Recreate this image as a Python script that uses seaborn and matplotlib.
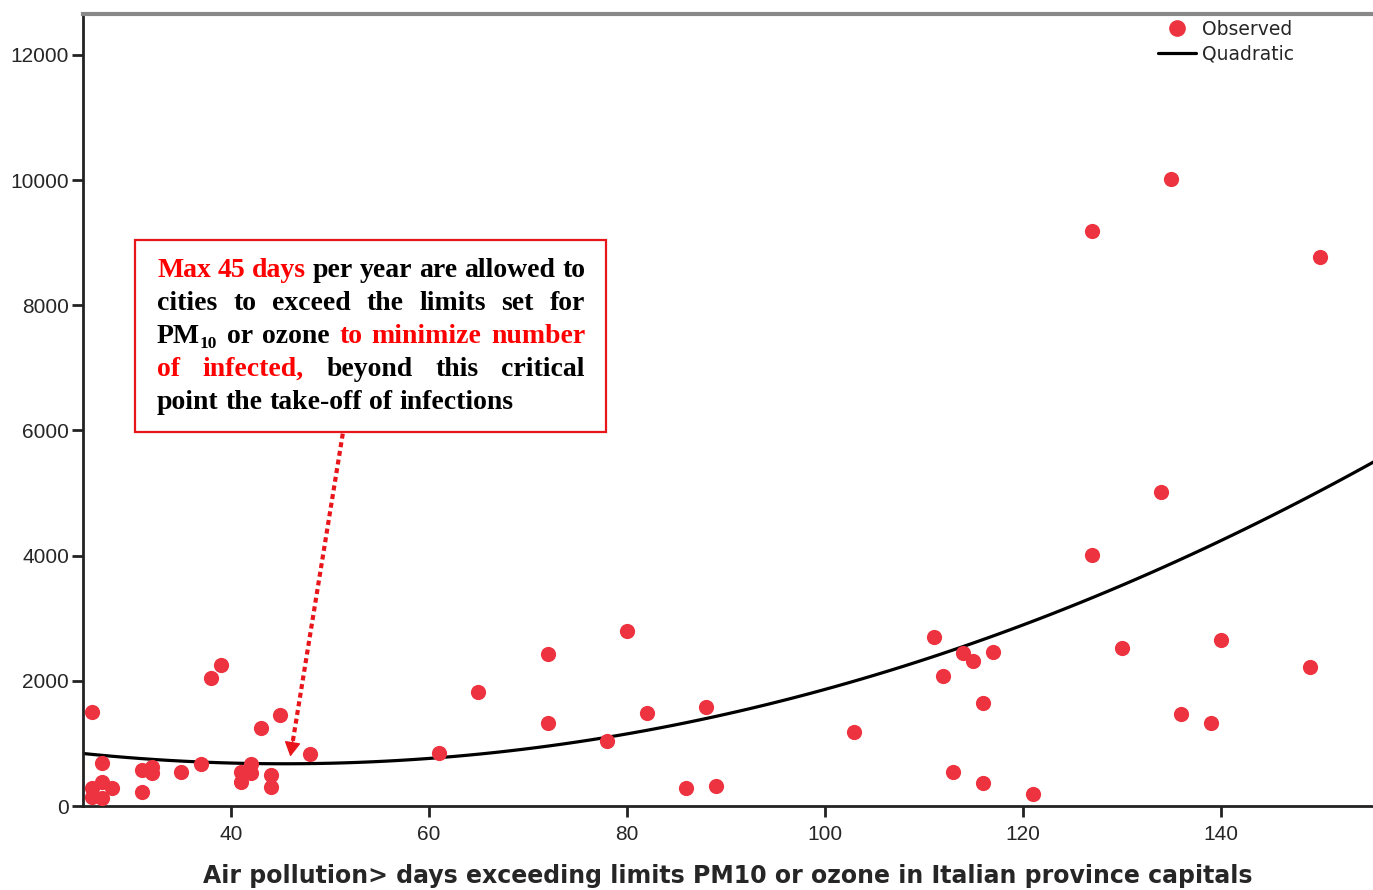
import numpy as np
import matplotlib
matplotlib.use("Agg")
import matplotlib.pyplot as plt
import seaborn as sns
from matplotlib.lines import Line2D
from matplotlib.patches import Rectangle

# Observed points: days over limit vs. infected
days = [26, 27, 26, 27, 28, 26, 27, 31, 32, 32, 31, 35, 37, 38, 39,
        41, 42, 42, 41, 44, 44, 43, 45, 48, 61, 65, 72, 72, 80, 78,
        82, 88, 86, 89, 103, 111, 112, 114, 115, 117, 116, 113, 116, 121,
        130, 140, 149, 136, 139, 127, 135, 150, 134, 127]
infected = [1500, 690, 280, 390, 280, 150, 120, 575, 630, 530, 220, 550, 670, 2040, 2250,
            550, 670, 530, 390, 495, 310, 1240, 1450, 825, 840, 1815, 2425, 1320, 2795, 1040,
            1480, 1585, 280, 325, 1190, 2705, 2080, 2440, 2315, 2455, 1640, 540, 370, 190,
            2520, 2660, 2225, 1465, 1320, 9190, 10025, 8780, 5020, 4005]

x_ticks = [40, 60, 80, 100, 120, 140]
y_ticks = [0, 2000, 4000, 6000, 8000, 10000, 12000]

note_lines = [
    [("Max 45 days", "red"), ("per year are allowed to", "black")],
    [("cities to exceed the limits set for", "black")],
    [("PM_10 or ozone", "black"), ("to minimize number", "red")],
    [("of infected,", "red"), ("beyond this critical", "black")],
    [("point the take-off of infections", "black")],
]

RED = "#ee3340"
NOTE_RED = "#e8161b"

sns.set_style("ticks")
plt.rcParams["font.family"] = ["Liberation Sans", "DejaVu Sans"]

W, H = 1373, 890
fig = plt.figure(figsize=(W / 100, H / 100), dpi=100)
ax = fig.add_axes([83 / W, 1 - 806 / H, (W - 83) / W, (806 - 14) / H])

sns.scatterplot(x=days, y=infected, color=RED, s=120, linewidth=0, ax=ax, zorder=3)
sns.regplot(x=np.array(days), y=np.array(infected), order=2, ci=None, scatter=False,
            truncate=False, line_kws=dict(color="black", lw=2.3), ax=ax)

ax.set_xlim(25.05, 155.4)
ax.set_ylim(0, 12655)
ax.set_xticks(x_ticks)
ax.set_yticks(y_ticks)
ax.tick_params(axis="both", labelsize=15, width=2, length=8, color="#222222")
ax.tick_params(axis="y", pad=2)
ax.tick_params(axis="x", pad=6)
ax.set_ylabel("")
ax.set_xlabel("Air pollution> days exceeding limits PM10 or ozone in Italian province capitals",
              fontsize=17, fontweight="bold", family="DejaVu Sans", labelpad=14)
for side in ["left", "bottom"]:
    ax.spines[side].set_linewidth(2)
    ax.spines[side].set_color("#222222")
ax.spines["top"].set_linewidth(3)
ax.spines["top"].set_color("#888888")
ax.spines["right"].set_visible(False)

handles = [Line2D([], [], marker="o", ls="none", color=RED, markersize=11),
           Line2D([], [], color="black", lw=2.3)]
ax.legend(handles, ["Observed", "Quadratic"], loc="upper left", frameon=False,
          bbox_to_anchor=(1158 / W, 1 - 20 / H), bbox_transform=fig.transFigure,
          borderpad=0, borderaxespad=0, handlelength=2.0, handletextpad=0.35,
          labelspacing=0.3, prop=dict(family="DejaVu Sans", size=13.5))

# annotation box with justified text
fig.add_artist(Rectangle((135 / W, 1 - 432 / H), (606 - 135) / W, (432 - 240) / H,
                         transform=fig.transFigure, fill=False, edgecolor=NOTE_RED, lw=1.6))

fig.canvas.draw()
renderer = fig.canvas.get_renderer()
fs = 20
left, right = 157, 585
for i, segs in enumerate(note_lines):
    y = 1 - (277 + 33 * i) / H
    words = []
    for text, color in segs:
        for w in text.split():
            if "_" in w:
                base, sub = w.split("_")
                words.append([(base, color, False), (sub, color, True)])
            else:
                words.append([(w, color, False)])
    items = []
    for pieces in words:
        arts = []
        for s, c, sub in pieces:
            t = fig.text(0, y - (5 / H if sub else 0), s, color=c,
                         fontsize=fs * 0.62 if sub else fs, fontweight="bold",
                         family="Liberation Serif", va="baseline", ha="left")
            arts.append((t, t.get_window_extent(renderer).width))
        items.append(arts)
    total = sum(wd for arts in items for _, wd in arts)
    if i < len(note_lines) - 1 and len(items) > 1:
        gap = (right - left - total) / (len(items) - 1)
    else:
        gap = fs * 1.389 * 0.25
    x = left
    for arts in items:
        for t, wd in arts:
            t.set_x(x / W)
            x += wd
        x += gap

# dotted arrow from the box down to the curve
tip = np.array([46.0, 790.0])
start = np.array([51.3, 5950.0])
stem_end = start + 0.955 * (tip - start)
ax.plot([start[0], stem_end[0]], [start[1], stem_end[1]], color=NOTE_RED, lw=3,
        linestyle=(0, (1.2, 0.9)), dash_capstyle="butt", zorder=4)
ax.annotate("", xy=tip, xytext=(2.3, 14.5), textcoords="offset points",
            arrowprops=dict(arrowstyle="-|>,head_length=0.9,head_width=0.5",
                            color=NOTE_RED, lw=1, shrinkA=0, shrinkB=0))

fig.savefig("out.png", dpi=100)
